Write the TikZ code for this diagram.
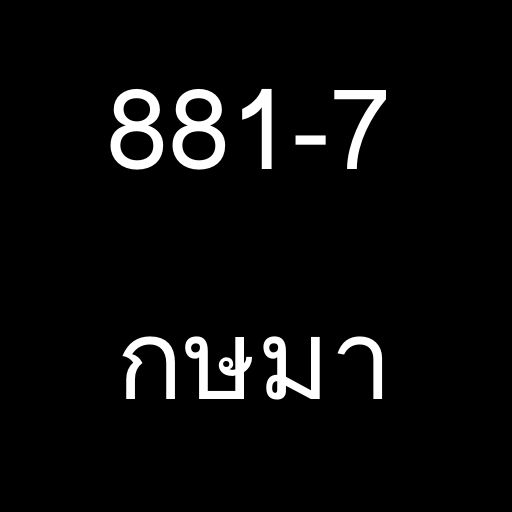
\documentclass[tikz,border=0pt]{standalone}
\usepackage{fontspec}
\newfontfamily\thaifont[Script=Thai]{Loma}
\usepackage{tikz}
\usetikzlibrary{positioning}

\begin{document}
\begin{tikzpicture}
\fill[black] (0,0) rectangle (10,10);
\useasboundingbox (0,0) rectangle (10,10);
\node[text=white,
      font=\thaifont\fontsize{62}{70}\selectfont,
      anchor=base
     ]
     (code) at (4.86,6.68) {881-7};
\node[text=white,
      font=\thaifont\fontsize{62}{70}\selectfont,
      anchor=base
     ]
     (name) at (4.98,2.2) {กษมา};
\end{tikzpicture}
\end{document}
